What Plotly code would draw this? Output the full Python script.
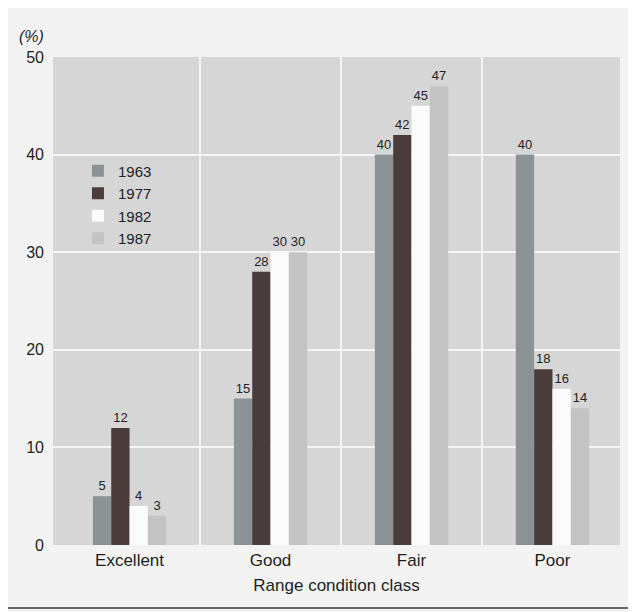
import plotly.graph_objects as go

categories = ["Excellent", "Good", "Fair", "Poor"]
years = ["1963", "1977", "1982", "1987"]
v1963 = [5, 15, 40, 40]
v1977 = [12, 28, 42, 18]
v1982 = [4, 30, 45, 16]
v1987 = [3, 30, 47, 14]
series = [v1963, v1977, v1982, v1987]
colors = ["#8b9397", "#4b3c3c", "#fbfbfb", "#c3c3c3"]
yticks = [0, 10, 20, 30, 40, 50]

xpos = list(range(len(categories)))
boundaries = [i + 0.5 for i in range(len(categories) - 1)]

FONT = "Liberation Sans, Arial, sans-serif"

fig = go.Figure()
for name, vals, col in zip(years, series, colors):
    fig.add_trace(go.Bar(
        x=xpos, y=vals, name=name,
        marker=dict(color=col, line=dict(width=0)),
        text=[str(v) for v in vals], textposition="outside",
        textfont=dict(size=13, color="#222222", family=FONT),
        cliponaxis=False,
    ))

fig.update_layout(
    width=636, height=612,
    margin=dict(l=45, r=24, t=49, b=75),
    barmode="group", bargap=0.48, bargroupgap=0,
    paper_bgcolor="#f3f3f3", plot_bgcolor="#d6d6d6",
    font=dict(family=FONT, size=16, color="#1e1e1e"),
    showlegend=True,
    legend=dict(x=0.044, y=0.80, xanchor="left", yanchor="top",
                bgcolor="rgba(0,0,0,0)", font=dict(size=15, color="#222"),
                itemwidth=30, tracegroupgap=0),
    xaxis=dict(
        range=[-0.543, 3.479], tickmode="array", tickvals=xpos, ticktext=categories,
        showgrid=False, zeroline=False, showline=False, ticks="",
        tickfont=dict(size=17), ticklabelstandoff=3,
        minor=dict(tickmode="array", tickvals=boundaries, showgrid=True,
                   gridcolor="#f5f5f5", gridwidth=1.5, ticks=""),
        title=dict(text="Range condition class", font=dict(size=17), standoff=10),
    ),
    yaxis=dict(
        range=[0, 50], tickmode="array", tickvals=yticks,
        showgrid=True, gridcolor="#f5f5f5", gridwidth=1.5,
        zeroline=False, showline=False, ticks="", tickfont=dict(size=16),
        ticklabelstandoff=8,
    ),
    annotations=[dict(text="<i>(%)</i>", xref="paper", yref="paper",
                      x=-0.012, y=1.02, xanchor="right", yanchor="bottom",
                      showarrow=False, font=dict(size=16, color="#1e1e1e"))],
    shapes=[dict(type="rect", xref="paper", yref="paper",
                 x0=-0.081, x1=1.019, y0=-0.129, y1=1.111,
                 line=dict(color="#3a3a3a", width=1.5), layer="above")],
)

fig.write_html("out.html")
